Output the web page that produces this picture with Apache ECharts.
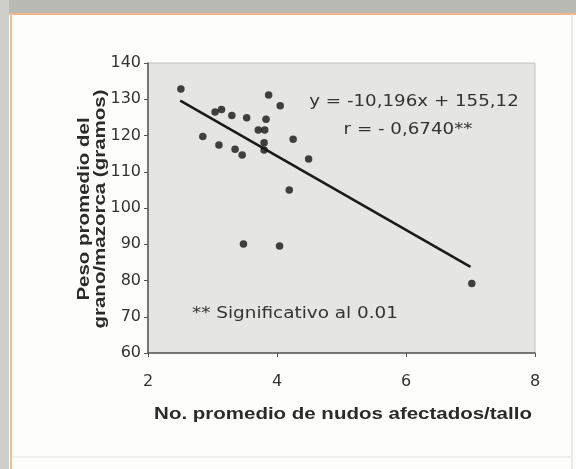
<!DOCTYPE html>
<html>
<head>
<meta charset="utf-8">
<script src="https://cdn.jsdelivr.net/npm/echarts@6/dist/echarts.min.js"></script>
<style>
  html, body { margin: 0; padding: 0; background: #fdfdfb; }
  #chart { width: 576px; height: 469px; }
</style>
</head>
<body>
<div id="chart"></div>
<script>
// Nudos afectados por tallo vs. peso promedio del grano por mazorca
const nudos = [2.51, 2.85, 3.04, 3.14, 3.10, 3.30, 3.35, 3.46, 3.53, 3.48, 3.71,
               3.81, 3.83, 3.80, 3.80, 3.87, 4.04, 4.05, 4.19, 4.25, 4.49, 7.02];
const peso  = [132.8, 119.7, 126.5, 127.2, 117.4, 125.5, 116.2, 114.6, 124.9, 90.1, 121.5,
               121.5, 124.5, 118.0, 116.0, 131.2, 89.5, 128.2, 105.0, 119.0, 113.5, 79.2];

// Recta de regresión: y = -10,196x + 155,12
const pendiente = -10.196;
const intercepto = 155.12;
const rangoRecta = [2.5, 7.0];

const xTicks = [2, 4, 6, 8];
const yTicks = [60, 70, 80, 90, 100, 110, 120, 130, 140];

const puntos = nudos.map((x, i) => [x, peso[i]]);
const recta = rangoRecta.map(x => [x, pendiente * x + intercepto]);

const chart = echarts.init(document.getElementById('chart'), null, { renderer: 'canvas' });

const fontTitulo = 'Liberation Sans, Arial, sans-serif';
const fontTexto = 'DejaVu Sans, sans-serif';

chart.setOption({
  animation: false,
  backgroundColor: '#fdfdfb',
  grid: { left: 148, top: 63, width: 387, height: 290, show: true,
          backgroundColor: '#e5e5e3', borderColor: '#c4c4c2', borderWidth: 1 },
  xAxis: {
    type: 'value', min: xTicks[0], max: xTicks[xTicks.length - 1], interval: 2,
    axisLine: { onZero: false, lineStyle: { color: '#555', width: 1.5 } },
    axisTick: { show: true, length: 4, lineStyle: { color: '#555' } },
    splitLine: { show: false },
    axisLabel: { color: '#333', fontSize: 16, fontFamily: fontTexto, margin: 21 }
  },
  yAxis: {
    type: 'value', min: yTicks[0], max: yTicks[yTicks.length - 1], interval: 10,
    axisLine: { show: true, lineStyle: { color: '#555', width: 1.5 } },
    axisTick: { show: true, length: 4, lineStyle: { color: '#555' } },
    splitLine: { show: false },
    axisLabel: { color: '#333', fontSize: 16, fontFamily: fontTexto, margin: 7 }
  },
  series: [
    {
      type: 'scatter', data: puntos, symbol: 'circle', symbolSize: 7.5,
      itemStyle: { color: '#151515' }
    },
    {
      type: 'line', data: recta, symbol: 'none',
      lineStyle: { color: '#1a1a1a', width: 2.5 }
    }
  ],
  graphic: [
    // marco de la figura
    { type: 'rect', shape: { x: 0, y: 0, width: 576, height: 13 },
      style: { fill: '#b9bab4' }, silent: true },
    { type: 'rect', shape: { x: 0, y: 0, width: 9, height: 469 },
      style: { fill: '#cfcfca' }, silent: true },
    { type: 'line', shape: { x1: 9, y1: 14, x2: 576, y2: 14 },
      style: { stroke: '#efb58c', lineWidth: 2 }, silent: true },
    { type: 'line', shape: { x1: 11, y1: 13, x2: 11, y2: 469 },
      style: { stroke: '#efbf98', lineWidth: 2 }, silent: true },
    { type: 'line', shape: { x1: 572, y1: 14, x2: 572, y2: 469 },
      style: { stroke: '#e3e3e0', lineWidth: 1.5 }, silent: true },
    { type: 'line', shape: { x1: 12, y1: 457, x2: 572, y2: 457 },
      style: { stroke: '#e8ecec', lineWidth: 1.5 }, silent: true },
    // título del eje Y
    { type: 'text', x: 93, y: 209, rotation: Math.PI / 2, scaleX: 1.28,
      style: { text: 'Peso promedio del\ngrano/mazorca (gramos)', fill: '#2a2a2a',
               font: 'bold 16px ' + fontTitulo, align: 'center', verticalAlign: 'middle',
               lineHeight: 16 } },
    // título del eje X
    { type: 'text', x: 343, y: 415, scaleX: 1.28,
      style: { text: 'No. promedio de nudos afectados/tallo', fill: '#2a2a2a',
               font: 'bold 16px ' + fontTitulo, align: 'center', verticalAlign: 'middle' } },
    // anotaciones
    { type: 'text', x: 414, y: 102, scaleX: 1.14,
      style: { text: 'y = -10,196x + 155,12', fill: '#333',
               font: '16px ' + fontTexto, align: 'center', verticalAlign: 'middle' } },
    { type: 'text', x: 408, y: 130, scaleX: 1.14,
      style: { text: 'r = - 0,6740**', fill: '#333',
               font: '16px ' + fontTexto, align: 'center', verticalAlign: 'middle' } },
    { type: 'text', x: 192, y: 314, scaleX: 1.15,
      style: { text: '** Significativo al 0.01', fill: '#333',
               font: '16px ' + fontTexto, align: 'left', verticalAlign: 'middle' } }
  ]
});
</script>
</body>
</html>
